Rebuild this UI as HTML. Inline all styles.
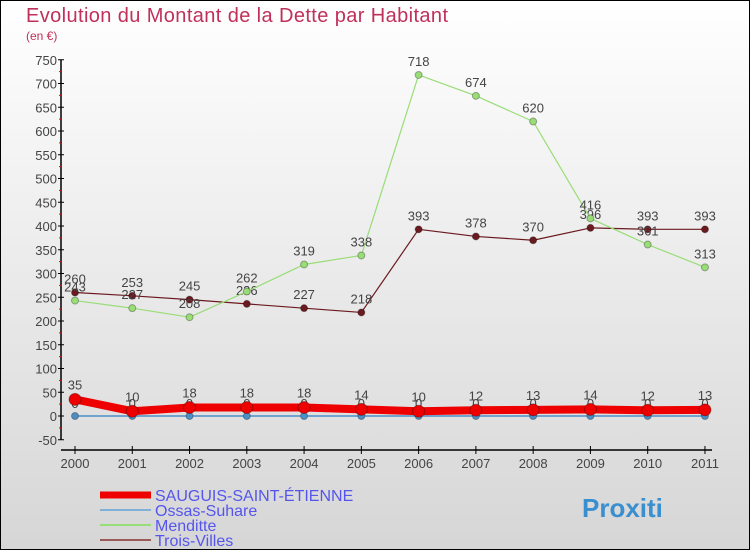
<!DOCTYPE html>
<html><head><meta charset="utf-8"><style>
body{margin:0}
#c{width:750px;height:550px;position:relative;box-sizing:border-box;border:1px solid #000;background:linear-gradient(#fff,#d6d6d6);font-family:"Liberation Sans",sans-serif;overflow:hidden}
</style></head><body>
<div id="c">
<svg id="s" width="750" height="550" style="position:absolute;left:-1px;top:-1px">
<text x="26" y="22" font-size="20" fill="#c0305a" textLength="422">Evolution du Montant de la Dette par Habitant</text>
<text x="26" y="40" font-size="12" fill="#c0305a">(en €)</text>
</svg>
</div>
<script>
const years=["2000","2001","2002","2003","2004","2005","2006","2007","2008","2009","2010","2011"];
const yTicks=[-50,0,50,100,150,200,250,300,350,400,450,500,550,600,650,700,750];
const sauguis=[35,10,18,18,18,14,10,12,13,14,12,13];
const ossas=[0,0,0,0,0,0,0,0,0,0,0,0];
const menditte=[243,227,208,262,319,338,718,674,620,416,361,313];
const trois=[260,253,245,236,227,218,393,378,370,396,393,393];
const s=document.getElementById('s');const NS='http://www.w3.org/2000/svg';
const X=i=>75+i*57.27, Y=v=>416-v*0.475;
function mk(t,a,txt){const e=document.createElementNS(NS,t);for(const k in a)e.setAttribute(k,a[k]);if(txt!=null)e.textContent=txt;s.appendChild(e);return e;}
let e=mk('line',{x1:61,y1:Y(750),x2:61,y2:Y(-50),stroke:'#000','stroke-width':1.5});


e=mk('line',{x1:61,y1:450,x2:712,y2:450,stroke:'#000','stroke-width':1.5});


yTicks.forEach((v,i)=>{mk('line',{x1:58,y1:Y(v),x2:64,y2:Y(v),stroke:'#000'});
if(i<yTicks.length-1)mk('line',{x1:59,y1:Y(v+25),x2:62,y2:Y(v+25),stroke:'#e00'});
e=mk('text',{x:57,y:Y(v)+5,'font-size':13,fill:'#444','text-anchor':'end'},v);

});
years.forEach((y,i)=>{mk('line',{x1:X(i),y1:446,x2:X(i),y2:454,stroke:'#000'});
e=mk('text',{x:X(i),y:468,'font-size':13,fill:'#444','text-anchor':'middle'},y);

});
function series(d,col,w,r,name,dy){
 e=mk('polyline',{points:d.map((v,i)=>X(i)+','+Y(v)).join(' '),fill:'none',stroke:col,'stroke-width':w,'stroke-linejoin':'round'});
 
 
 d.forEach((v,i)=>{e=mk('circle',{cx:X(i),cy:Y(v),r:r,fill:col,stroke:'rgba(0,0,0,0.3)'});
 
 
 e=mk('text',{x:X(i),y:Y(v)+dy,'font-size':13,fill:'#444','text-anchor':'middle'},v);
 
 });
}
series(trois,'#6b1a1f',1.2,3.5,'trois-villes',-9);
series(menditte,'#99dd77',1.2,3.5,'menditte',-9);
series(ossas,'#4a90c8',1.5,3.5,'ossas-suhare',-8);
series(sauguis,'#ee0000',8,6,'sauguis',-10);
const leg=[['SAUGUIS-SAINT-ÉTIENNE','#ee0000',7],['Ossas-Suhare','#7fb0d8',2],['Menditte','#99dd77',2],['Trois-Villes','#9a5a5a',2]];
leg.forEach((l,i)=>{const y=495+i*15;
 mk('line',{x1:100,y1:y,x2:151,y2:y,stroke:l[1],'stroke-width':l[2]});
 e=mk('text',{x:155,y:y+6,'font-size':16,fill:'#5555ee'},l[0]);
 
 });
e=mk('text',{x:582,y:517,'font-size':26,'font-weight':'bold',fill:'#3a8fd0'},'Proxiti');


</script>
</body></html>
